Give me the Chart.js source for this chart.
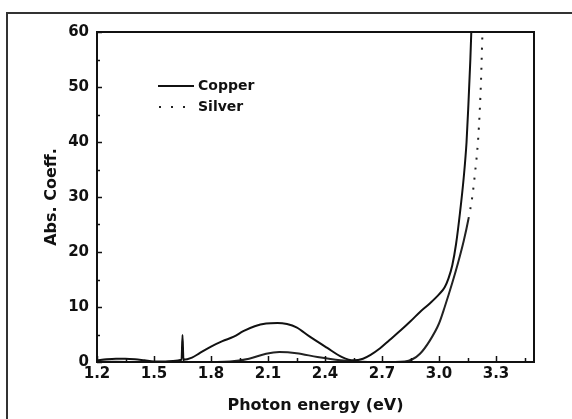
<!DOCTYPE html>
<html><head><meta charset="utf-8">
<script src="https://cdn.jsdelivr.net/npm/chart.js@4/dist/chart.umd.min.js"></script>
<style>html,body{margin:0;padding:0;background:#fff}canvas{display:block}</style>
</head><body>
<canvas id="c" width="572" height="419"></canvas>
<script>
const copperX=[1.20,1.25,1.30,1.35,1.40,1.45,1.50,1.55,1.60,1.645,1.65,1.655,1.70,1.74,1.80,1.86,1.92,1.97,2.03,2.09,2.15,2.20,2.25,2.32,2.41,2.49,2.55,2.60,2.64,2.69,2.74,2.80,2.85,2.90,2.95,3.00,3.03,3.05,3.07,3.09,3.11,3.13,3.145,3.155,3.165,3.17];
const copperY=[0.3,0.5,0.6,0.6,0.5,0.3,0.1,0.1,0.2,0.4,4.9,0.4,0.8,1.6,2.8,3.8,4.6,5.6,6.5,7.0,7.1,6.9,6.3,4.6,2.6,0.9,0.3,0.6,1.3,2.5,4.0,5.8,7.4,9.1,10.6,12.3,13.6,15.2,17.6,21.5,27,33.5,40,47,55,60];
const silverX=[1.20,1.50,1.74,1.90,2.00,2.09,2.16,2.25,2.36,2.48,2.56,2.70,2.82,2.86,2.90,2.95,3.00,3.03,3.07,3.10,3.13,3.155,3.175,3.19,3.205,3.215,3.222,3.227,3.229];
const silverY=[0.1,0.0,0.0,0.1,0.6,1.5,1.8,1.6,0.9,0.3,0.1,0.0,0.1,0.5,1.5,3.8,7.0,10.0,14.4,18.0,22.0,26.0,30.0,34.5,40,46,52,58,60];
const seriesNames=['Copper','Silver'];
const xTickValues=[1.2,1.5,1.8,2.1,2.4,2.7,3.0,3.3];
const xMinorValues=[1.35,1.65,1.95,2.25,2.55,2.85,3.15,3.45];
const yTickValues=[0,10,20,30,40,50,60];
const yMinorValues=[5,15,25,35,45,55];

const FONT='"DejaVu Sans", Verdana, sans-serif';
const toPts=(xs,ys)=>xs.map((x,i)=>({x:x,y:ys[i]}));

const deco={
  id:'deco',
  beforeDraw(chart){
    const c=chart.ctx;c.save();c.fillStyle='#fff';c.fillRect(0,0,chart.width,chart.height);c.restore();
  },
  afterDraw(chart){
    const c=chart.ctx;const a=chart.chartArea;
    const xs=chart.scales.x, ys=chart.scales.y;
    c.save();
    c.strokeStyle='#111';c.lineWidth=2;
    c.strokeRect(a.left,a.top,a.right-a.left,a.bottom-a.top);
    c.lineWidth=1.5;
    c.beginPath();
    xTickValues.forEach(v=>{const p=Math.round(xs.getPixelForValue(v))+0.5;c.moveTo(p,a.bottom);c.lineTo(p,a.bottom-6);});
    xMinorValues.forEach(v=>{const p=Math.round(xs.getPixelForValue(v))+0.5;c.moveTo(p,a.bottom);c.lineTo(p,a.bottom-4);});
    yTickValues.forEach(v=>{const p=Math.round(ys.getPixelForValue(v))+0.5;c.moveTo(a.left,p);c.lineTo(a.left+5,p);});
    yMinorValues.forEach(v=>{const p=Math.round(ys.getPixelForValue(v))+0.5;c.moveTo(a.left,p);c.lineTo(a.left+3,p);});
    c.stroke();
    // legend
    c.lineWidth=2;c.beginPath();c.moveTo(158,86);c.lineTo(194,86);c.stroke();
    c.fillStyle='#222';
    [159,171,183].forEach(x=>c.fillRect(x,106,2,2));
    c.fillStyle='#111';c.font='bold 14px '+FONT;c.textBaseline='middle';c.textAlign='left';
    c.fillText(seriesNames[0],198,86);
    c.fillText(seriesNames[1],198,107);
    // outer frame
    c.strokeStyle='#333';c.lineWidth=2;
    c.beginPath();c.moveTo(7,chart.height+2);c.lineTo(7,13);c.lineTo(chart.width+2,13);c.stroke();
    c.restore();
  }
};

new Chart(document.getElementById('c'),{
  type:'line',
  data:{datasets:[
    {label:seriesNames[0],data:toPts(copperX,copperY),borderColor:'#111',borderWidth:2,pointRadius:0,cubicInterpolationMode:'monotone'},
    {label:seriesNames[1],data:toPts(silverX,silverY),borderColor:'#222',borderWidth:2,pointRadius:0,cubicInterpolationMode:'monotone',
      segment:{borderDash:ctx=>ctx.p1.parsed.y>29?[2,8]:[]}}
  ]},
  options:{
    responsive:false,animation:false,devicePixelRatio:1,
    layout:{padding:{left:0,top:32,right:38,bottom:0}},
    plugins:{legend:{display:false},tooltip:{enabled:false}},
    scales:{
      x:{type:'linear',min:1.2,max:3.5,
        grid:{display:false,drawTicks:false},border:{display:false},
        afterBuildTicks:s=>{s.ticks=xTickValues.map(v=>({value:v}));},
        afterFit:s=>{s.height=57;},
        ticks:{color:'#111',font:{family:FONT,size:15,weight:'bold'},padding:3,maxRotation:0,autoSkip:false,callback:v=>v.toFixed(1)},
        title:{display:true,text:'Photon energy (eV)',color:'#111',font:{family:FONT,size:16,weight:'bold'},padding:{top:0,bottom:4}}
      },
      y:{type:'linear',min:0,max:60,
        grid:{display:false,drawTicks:false},border:{display:false},
        afterBuildTicks:s=>{s.ticks=yTickValues.map(v=>({value:v}));},
        afterFit:s=>{s.width=97;},
        ticks:{color:'#111',font:{family:FONT,size:15,weight:'bold'},padding:8,autoSkip:false},
        title:{display:true,text:'Abs. Coeff.',color:'#111',font:{family:FONT,size:16,weight:'bold'},padding:{top:42,bottom:0}}
      }
    }
  },
  plugins:[deco]
});
</script>
</body></html>
